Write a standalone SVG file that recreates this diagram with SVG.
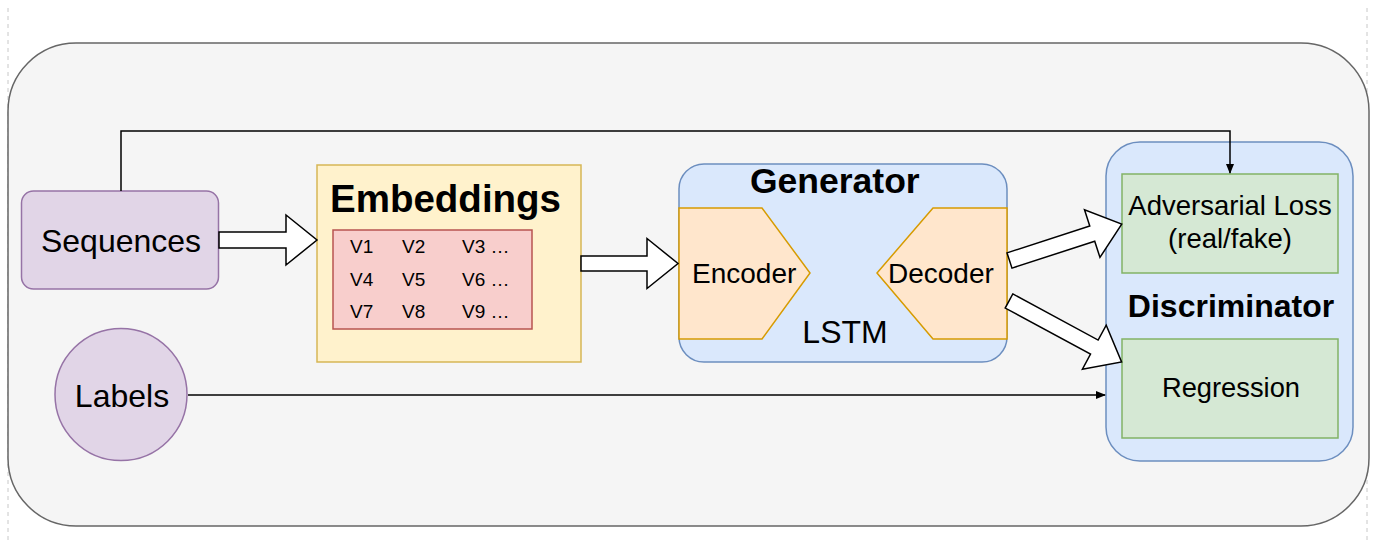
<svg xmlns="http://www.w3.org/2000/svg" width="1379" height="541" viewBox="0 0 1379 541">
<style>
text{font-family:"Liberation Sans",Arial,sans-serif;fill:#000}
.b{font-weight:bold}
.blk{fill:#fff;stroke:#000;stroke-width:1.5;stroke-linejoin:miter}
.ln{fill:none;stroke:#000;stroke-width:1.5}
</style>
<defs>
<marker id="ah" viewBox="0 0 10 10" refX="9" refY="5" markerWidth="10" markerHeight="10" markerUnits="userSpaceOnUse" orient="auto">
<path d="M0,1 L10,5 L0,9 Z" fill="#000"/>
</marker>
</defs>
<rect width="1379" height="541" fill="#fff"/>
<g id="guides" stroke="#c8c8c8" stroke-width="1" stroke-dasharray="4 4">
<line x1="8" y1="8" x2="8" y2="541"/>
<line x1="1367" y1="8" x2="1367" y2="541"/>
</g>
<g id="container">
<rect x="8" y="43" width="1361" height="483" rx="68" ry="68" fill="#f5f5f5" stroke="#666" stroke-width="1.5"/>
</g>
<g id="sequences">
<rect x="21.5" y="191" width="197" height="98" rx="12" fill="#e1d5e7" stroke="#9673a6" stroke-width="1.5"/>
<text x="121" y="252" font-size="32" text-anchor="middle">Sequences</text>
</g>
<g id="labels">
<circle cx="121" cy="394.5" r="66" fill="#e1d5e7" stroke="#9673a6" stroke-width="1.5"/>
<text x="122" y="407" font-size="32" text-anchor="middle">Labels</text>
</g>
<g id="embeddings">
<rect x="317" y="165" width="264" height="197" fill="#fff2cc" stroke="#d6b656" stroke-width="1.5"/>
<text x="330" y="212" font-size="38.5" class="b">Embeddings</text>
<rect x="333" y="230" width="199" height="99" fill="#f8cecc" stroke="#b85450" stroke-width="1.5"/>
<g font-size="19">
<text x="350" y="253">V1</text><text x="402" y="253">V2</text><text x="462" y="253">V3 …</text>
<text x="350" y="286">V4</text><text x="402" y="286">V5</text><text x="462" y="286">V6 …</text>
<text x="350" y="318">V7</text><text x="402" y="318">V8</text><text x="462" y="318">V9 …</text>
</g>
</g>
<g id="generator">
<rect x="679" y="164" width="328" height="198" rx="25" fill="#dae8fc" stroke="#6c8ebf" stroke-width="1.5"/>
<text x="750" y="193" font-size="35.5" class="b">Generator</text>
<text x="845" y="343" font-size="32" text-anchor="middle">LSTM</text>
</g>
<g id="encoder">
<path d="M679,208 H762 L810,273 L762,339 H679 Z" fill="#ffe6cc" stroke="#d79b00" stroke-width="1.5"/>
<text x="692" y="283" font-size="28">Encoder</text>
</g>
<g id="decoder">
<path d="M1007,208 H933 L877,273 L933,339 H1007 Z" fill="#ffe6cc" stroke="#d79b00" stroke-width="1.5"/>
<text x="888" y="283" font-size="28">Decoder</text>
</g>
<g id="discriminator">
<rect x="1106" y="142" width="247" height="319" rx="34" fill="#dae8fc" stroke="#6c8ebf" stroke-width="1.5"/>
<text x="1231" y="317" font-size="32" class="b" text-anchor="middle">Discriminator</text>
</g>
<g id="adversarial">
<rect x="1122" y="174" width="216" height="99" fill="#d5e8d4" stroke="#82b366" stroke-width="1.5"/>
<text x="1230" y="215" font-size="27.5" text-anchor="middle">Adversarial Loss</text>
<text x="1230" y="248" font-size="27.5" text-anchor="middle">(real/fake)</text>
</g>
<g id="regression">
<rect x="1122" y="339" width="216" height="99" fill="#d5e8d4" stroke="#82b366" stroke-width="1.5"/>
<text x="1231" y="397" font-size="27.3" text-anchor="middle">Regression</text>
</g>
<g id="connectors">
<path class="ln" d="M121,191 V131 H1230 V173" marker-end="url(#ah)"/>
<path class="ln" d="M188,395 H1105" marker-end="url(#ah)"/>
<path class="blk" transform="translate(219,240)" d="M0,-8 H67 V-25 L98,0 L67,25 V8 H0 Z"/>
<path class="blk" transform="translate(581,263.5)" d="M0,-7.5 H66 V-25 L97,0 L66,25 V7.5 H0 Z"/>
<path class="blk" transform="translate(1009.5,260.5) rotate(-18)" d="M0,-8 H87 V-25 L118,0 L87,25 V8 H0 Z"/>
<path class="blk" transform="translate(1009,301) rotate(28.4)" d="M0,-8 H97 V-25 L128,0 L97,25 V8 H0 Z"/>
</g>
</svg>
